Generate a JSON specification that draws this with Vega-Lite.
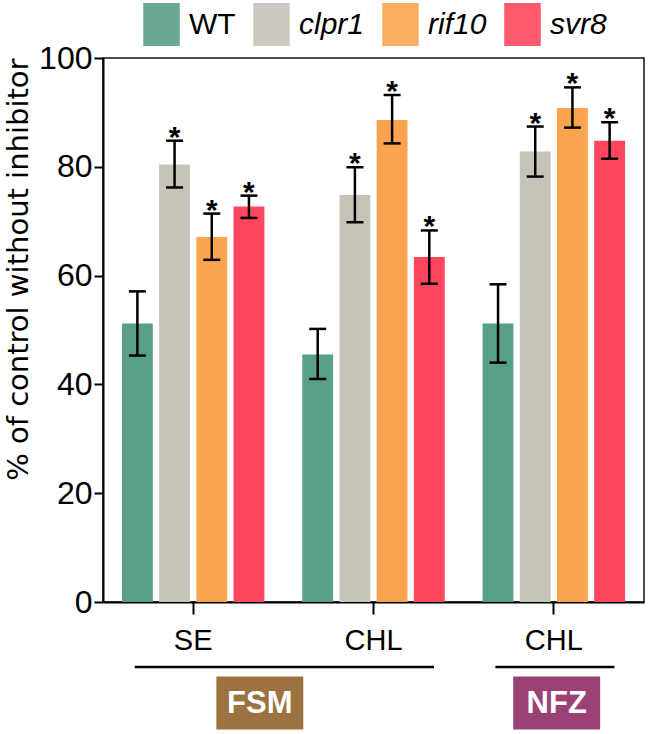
{
  "$schema": "https://vega.github.io/schema/vega-lite/v6.json",
  "width": 541,
  "height": 544,
  "autosize": "none",
  "padding": {"left": 103, "top": 58, "right": 6, "bottom": 132},
  "config": {
    "font": "Liberation Sans",
    "view": {"stroke": "#111111", "strokeWidth": 1.5},
    "legend": {"layout": {"top": {"anchor": "middle"}}}
  },
  "datasets": {
    "bars": [
      {"group": "FSM-SE", "genotype": "WT", "value": 51.2, "lo": 45.3, "hi": 57.1, "sig": ""},
      {"group": "FSM-SE", "genotype": "clpr1", "value": 80.4, "lo": 76.2, "hi": 84.8, "sig": "*"},
      {"group": "FSM-SE", "genotype": "rif10", "value": 67.1, "lo": 62.9, "hi": 71.4, "sig": "*"},
      {"group": "FSM-SE", "genotype": "svr8", "value": 72.7, "lo": 70.6, "hi": 74.7, "sig": "*"},
      {"group": "FSM-CHL", "genotype": "WT", "value": 45.5, "lo": 41.0, "hi": 50.2, "sig": ""},
      {"group": "FSM-CHL", "genotype": "clpr1", "value": 74.8, "lo": 69.8, "hi": 79.9, "sig": "*"},
      {"group": "FSM-CHL", "genotype": "rif10", "value": 88.6, "lo": 84.3, "hi": 93.2, "sig": "*"},
      {"group": "FSM-CHL", "genotype": "svr8", "value": 63.4, "lo": 58.5, "hi": 68.3, "sig": "*"},
      {"group": "NFZ-CHL", "genotype": "WT", "value": 51.2, "lo": 44.0, "hi": 58.4, "sig": ""},
      {"group": "NFZ-CHL", "genotype": "clpr1", "value": 82.8, "lo": 78.2, "hi": 87.4, "sig": "*"},
      {"group": "NFZ-CHL", "genotype": "rif10", "value": 90.8, "lo": 87.2, "hi": 94.6, "sig": "*"},
      {"group": "NFZ-CHL", "genotype": "svr8", "value": 84.8, "lo": 81.5, "hi": 88.2, "sig": "*"}
    ],
    "treatments": [
      {"treatment": "FSM", "from": "FSM-SE", "to": "FSM-CHL"},
      {"treatment": "NFZ", "from": "NFZ-CHL", "to": "NFZ-CHL"}
    ]
  },
  "layer": [
    {
      "data": {"name": "bars"},
      "layer": [
        {
          "mark": {"type": "bar"},
          "encoding": {
            "x": {
              "field": "group", "type": "nominal", "sort": null,
              "scale": {"domain": ["FSM-SE", "FSM-CHL", "NFZ-CHL"], "paddingInner": 0.21, "paddingOuter": 0.105},
              "axis": {
                "title": null,
                "labelExpr": "split(datum.label, '-')[1]",
                "labelAngle": 0,
                "labelFontSize": 29,
                "labelColor": "black",
                "labelPadding": 12,
                "tickSize": 12,
                "tickWidth": 2,
                "tickColor": "black",
                "domainWidth": 2,
                "domainColor": "black"
              }
            },
            "xOffset": {
              "field": "genotype", "type": "nominal", "sort": null,
              "scale": {"domain": ["WT", "clpr1", "rif10", "svr8"], "paddingInner": 0.17, "paddingOuter": 0}
            },
            "y": {
              "field": "value", "type": "quantitative",
              "scale": {"domain": [0, 100], "nice": false},
              "axis": {
                "values": [0, 20, 40, 60, 80, 100],
                "grid": false,
                "title": "% of control without inhibitor",
                "titleFont": "DejaVu Sans",
                "titleFontSize": 29,
                "titleFontWeight": "normal",
                "titleColor": "black",
                "titleAnchor": "end",
                "titlePadding": 5,
                "labelFontSize": 32,
                "labelColor": "black",
                "labelPadding": 2,
                "tickSize": 9,
                "tickWidth": 2,
                "tickColor": "black",
                "domainWidth": 2,
                "domainColor": "black"
              }
            },
            "color": {
              "field": "genotype", "type": "nominal", "sort": null,
              "scale": {"domain": ["WT", "clpr1", "rif10", "svr8"], "range": ["#59a08b", "#c6c4b9", "#fba44f", "#fe475c"]},
              "legend": {
                "orient": "top",
                "direction": "horizontal",
                "title": null,
                "symbolType": "M-0.85,-1H0.85V1H-0.85Z",
                "symbolSize": 1849,
                "symbolStrokeWidth": 0,
                "symbolOpacity": 0.9,
                "labelFontSize": 30,
                "labelFontWeight": "normal",
                "labelColor": "black",
                "labelOffset": 6,
                "columnPadding": 14,
                "offset": 12,
                "encode": {"labels": {"update": {"fontStyle": {"signal": "datum.value == 'WT' ? 'normal' : 'italic'"}}}}
              }
            }
          }
        },
        {
          "mark": {"type": "rule", "color": "black", "strokeWidth": 2.5},
          "encoding": {
            "x": {"field": "group", "type": "nominal", "sort": null},
            "xOffset": {"field": "genotype", "type": "nominal", "sort": null},
            "y": {"field": "lo", "type": "quantitative"},
            "y2": {"field": "hi"}
          }
        },
        {
          "mark": {"type": "tick", "color": "black", "thickness": 2.5, "size": 17, "opacity": 1},
          "encoding": {
            "x": {"field": "group", "type": "nominal", "sort": null},
            "xOffset": {"field": "genotype", "type": "nominal", "sort": null},
            "y": {"field": "lo", "type": "quantitative"}
          }
        },
        {
          "mark": {"type": "tick", "color": "black", "thickness": 2.5, "size": 17, "opacity": 1},
          "encoding": {
            "x": {"field": "group", "type": "nominal", "sort": null},
            "xOffset": {"field": "genotype", "type": "nominal", "sort": null},
            "y": {"field": "hi", "type": "quantitative"}
          }
        },
        {
          "mark": {"type": "text", "fontSize": 30, "fontWeight": "bold", "color": "black", "baseline": "alphabetic", "dy": 6},
          "encoding": {
            "x": {"field": "group", "type": "nominal", "sort": null},
            "xOffset": {"field": "genotype", "type": "nominal", "sort": null},
            "y": {"field": "hi", "type": "quantitative"},
            "text": {"field": "sig"}
          }
        }
      ]
    },
    {
      "data": {"name": "treatments"},
      "layer": [
        {
          "mark": {"type": "rule", "color": "black", "strokeWidth": 2.5, "yOffset": 65, "clip": false},
          "encoding": {
            "x": {"field": "from", "type": "nominal", "bandPosition": 0.09},
            "x2": {"field": "to", "bandPosition": 0.925},
            "y": {"datum": 0}
          }
        },
        {
          "transform": [{"filter": "datum.treatment == 'FSM'"}],
          "layer": [
            {
              "mark": {"type": "point", "shape": "M-0.82,-0.5H0.82V0.5H-0.82Z", "size": 11236, "filled": true, "opacity": 1, "color": "#9b7240", "strokeWidth": 0, "yOffset": 101, "clip": false},
              "encoding": {"x": {"field": "from", "type": "nominal", "bandPosition": 0.968}, "y": {"datum": 0}}
            },
            {
              "mark": {"type": "text", "fontSize": 31, "fontWeight": "bold", "color": "white", "baseline": "middle", "yOffset": 102, "clip": false},
              "encoding": {"x": {"field": "from", "type": "nominal", "bandPosition": 0.968}, "y": {"datum": 0}, "text": {"field": "treatment"}}
            }
          ]
        },
        {
          "transform": [{"filter": "datum.treatment == 'NFZ'"}],
          "layer": [
            {
              "mark": {"type": "point", "shape": "M-0.82,-0.5H0.82V0.5H-0.82Z", "size": 11236, "filled": true, "opacity": 1, "color": "#9b4176", "strokeWidth": 0, "yOffset": 101, "clip": false},
              "encoding": {"x": {"field": "to", "type": "nominal", "bandPosition": 0.52}, "y": {"datum": 0}}
            },
            {
              "mark": {"type": "text", "fontSize": 31, "fontWeight": "bold", "color": "white", "baseline": "middle", "yOffset": 102, "clip": false},
              "encoding": {"x": {"field": "to", "type": "nominal", "bandPosition": 0.52}, "y": {"datum": 0}, "text": {"field": "treatment"}}
            }
          ]
        }
      ]
    }
  ]
}
